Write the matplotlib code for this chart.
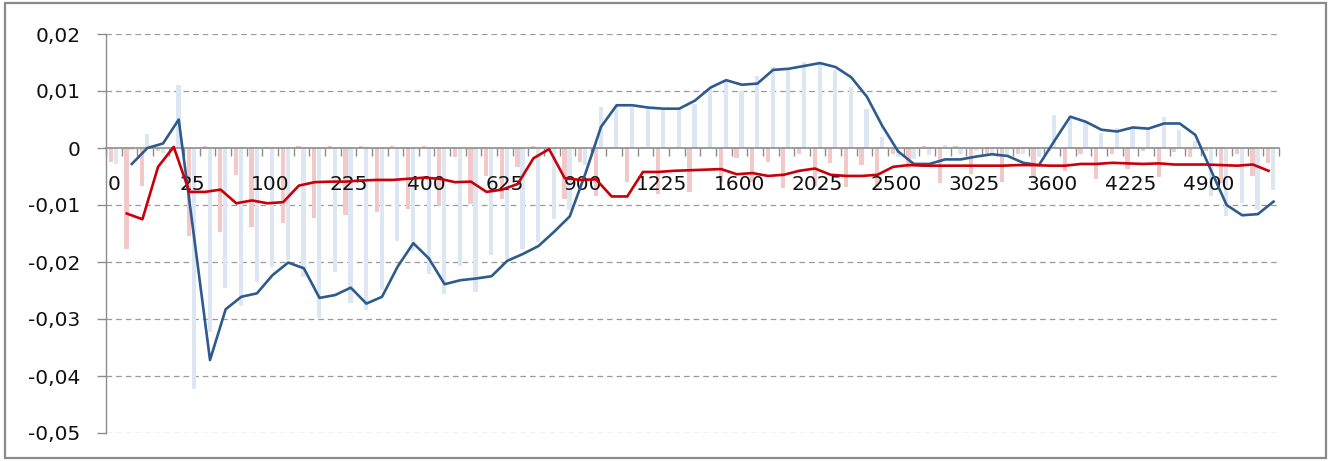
import numpy as np
import matplotlib
matplotlib.use("Agg")
import matplotlib.pyplot as plt
from matplotlib.patches import Rectangle
from matplotlib.transforms import blended_transform_factory

# categories: squares 0..74^2
categories = [i * i for i in range(75)]

red_bars = [-0.0025, -0.0177, -0.0067, -0.0005, -0.0005, -0.0154, 0.0003, -0.0147, -0.0047, -0.0139,
            0.0002, -0.0131, 0.0003, -0.0123, 0.0003, -0.0118, 0.0003, -0.0113, 0.0003, -0.0107,
            0.0003, -0.0101, -0.0015, -0.0099, -0.0049, -0.0090, -0.0033, 0.0003, -0.0005, -0.0090,
            -0.0025, -0.0085, 0.0002, -0.0060, 0.0002, -0.0080, 0.0002, -0.0078, 0.0002, -0.0060,
            -0.0018, -0.0060, -0.0024, -0.0070, -0.0010, -0.0066, -0.0027, -0.0068, -0.0030, -0.0068,
            -0.0010, -0.0035, 0.0003, -0.0062, 0.0003, -0.0045, -0.0010, -0.0059, -0.0010, -0.0050,
            -0.0005, -0.0040, -0.0010, -0.0055, -0.0010, -0.0036, -0.0005, -0.0051, -0.0007, -0.0015,
            -0.0005, -0.0062, -0.0010, -0.0050, -0.0027]

blue_bars = [-0.0028, -0.0003, 0.0024, -0.0008, 0.0110, -0.0423, -0.0322, -0.0246, -0.0277, -0.0235,
             -0.0208, -0.0197, -0.0227, -0.0298, -0.0218, -0.0272, -0.0285, -0.0250, -0.0164, -0.0180,
             -0.0221, -0.0256, -0.0207, -0.0252, -0.0188, -0.0195, -0.0177, -0.0165, -0.0125, -0.0109,
             -0.0030, 0.0072, 0.0074, 0.0072, 0.0069, 0.0066, 0.0068, 0.0078, 0.0105, 0.0118,
             0.0100, 0.0127, 0.0142, 0.0136, 0.0151, 0.0147, 0.0137, 0.0107, 0.0069, 0.0020,
             -0.0015, -0.0020, -0.0012, 0.0005, -0.0010, -0.0005, -0.0010, -0.0015, -0.0010, -0.0015,
             0.0058, 0.0050, 0.0044, 0.0026, 0.0035, 0.0035, 0.0034, 0.0055, 0.0032, 0.0012,
             -0.0085, -0.0120, -0.0096, -0.0108, -0.0073]

blue_line = [np.nan, -0.0028, 0.0000, 0.0008, 0.0050, -0.0160, -0.0372, -0.0283, -0.0261, -0.0255,
             -0.0223, -0.0201, -0.0211, -0.0263, -0.0258, -0.0245, -0.0273, -0.0261, -0.0208, -0.0167,
             -0.0194, -0.0239, -0.0232, -0.0229, -0.0225, -0.0198, -0.0186, -0.0172, -0.0147, -0.0120,
             -0.0045, 0.0037, 0.0075, 0.0075, 0.0071, 0.0069, 0.0069, 0.0083, 0.0106, 0.0119,
             0.0111, 0.0113, 0.0137, 0.0139, 0.0144, 0.0149, 0.0142, 0.0124, 0.0090, 0.0038,
             -0.0006, -0.0028, -0.0028, -0.0020, -0.0020, -0.0015, -0.0011, -0.0014, -0.0026, -0.0030,
             0.0013, 0.0055, 0.0046, 0.0032, 0.0029, 0.0036, 0.0034, 0.0043, 0.0043, 0.0023,
             -0.0039, -0.0100, -0.0118, -0.0116, -0.0094]

red_line = [np.nan, -0.0115, -0.0125, -0.0033, 0.0002, -0.0077, -0.0077, -0.0073, -0.0097, -0.0092,
            -0.0097, -0.0095, -0.0066, -0.0060, -0.0059, -0.0059, -0.0057, -0.0056, -0.0056, -0.0054,
            -0.0052, -0.0054, -0.0060, -0.0059, -0.0077, -0.0073, -0.0063, -0.0018, -0.0002, -0.0053,
            -0.0056, -0.0055, -0.0085, -0.0085, -0.0042, -0.0042, -0.0040, -0.0039, -0.0038, -0.0037,
            -0.0046, -0.0044, -0.0049, -0.0047, -0.0040, -0.0036, -0.0047, -0.0049, -0.0049, -0.0047,
            -0.0033, -0.0030, -0.0031, -0.0031, -0.0031, -0.0031, -0.0031, -0.0031, -0.0030, -0.0030,
            -0.0031, -0.0031, -0.0028, -0.0028, -0.0026, -0.0027, -0.0028, -0.0027, -0.0029, -0.0029,
            -0.0029, -0.0030, -0.0031, -0.0029, -0.0040]

y_ticks = [0.02, 0.01, 0.0, -0.01, -0.02, -0.03, -0.04, -0.05]
y_labels = ["0,02", "0,01", "0", "-0,01", "-0,02", "-0,03", "-0,04", "-0,05"]
label_every = 5

W, H = 1332, 461
fig = plt.figure(figsize=(W / 100, H / 100), dpi=100)
fig.patch.set_facecolor("white")
ax = fig.add_axes([106 / W, 1 - 433 / H, (1279 - 106) / W, (433 - 34) / H])

x = np.arange(len(categories))
bw = 0.27
ax.bar(x - 0.19, red_bars, width=bw, color="#F2C9C9", zorder=2, linewidth=0)
ax.bar(x + 0.13, blue_bars, width=bw, color="#DDE6F3", zorder=2, linewidth=0)
ax.plot(x + 0.15, blue_line, color="#2D5B8D", lw=1.9, zorder=4, solid_joinstyle="round")
ax.plot(x - 0.17, red_line, color="#C8000A", lw=1.9, zorder=4, solid_joinstyle="round")

ax.set_xlim(-0.5, len(categories) - 0.5)
ax.set_ylim(-0.05, 0.02)

# gridlines
for yv in y_ticks:
    if yv != 0:
        ax.axhline(yv, color="#9A9A9A", lw=0.9, linestyle=(0, (4.5, 3.2)), zorder=1)

# spines
for s in ["top", "right"]:
    ax.spines[s].set_visible(False)
ax.spines["left"].set_color("#8C8C8C")
ax.spines["left"].set_linewidth(1.0)
ax.spines["bottom"].set_position(("data", 0))
ax.spines["bottom"].set_color("#8C8C8C")
ax.spines["bottom"].set_linewidth(1.2)
ax.spines["bottom"].set_zorder(3)

# y axis
ax.set_yticks(y_ticks)
ax.set_yticklabels(y_labels, fontsize=14.5, color="#111111", family="DejaVu Sans")
ax.tick_params(axis="y", direction="out", length=6.5, width=1, color="#8C8C8C", pad=12)

# x axis: tick marks at category boundaries, labels every 5th category
ax.set_xticks(np.arange(len(categories) + 1) - 0.5)
ax.set_xticklabels([])
ax.tick_params(axis="x", which="major", direction="out", length=6, width=1, color="#8C8C8C")
trans = blended_transform_factory(ax.transData, fig.transFigure)
label_y = 1 - 185 / H
for i in x[::label_every]:
    ax.text(i, label_y, str(categories[i]), transform=trans,
            ha="center", va="center", fontsize=14.5, color="#111111",
            family="DejaVu Sans", zorder=3.5, clip_on=False)

# outer chart border
fig.patches.append(Rectangle((5 / W, 3 / H), (1326 - 5) / W, (458 - 3) / H,
                             transform=fig.transFigure, fill=False,
                             edgecolor="#8A8A8A", lw=1.6))

fig.savefig("out.png", dpi=100, facecolor="white")
